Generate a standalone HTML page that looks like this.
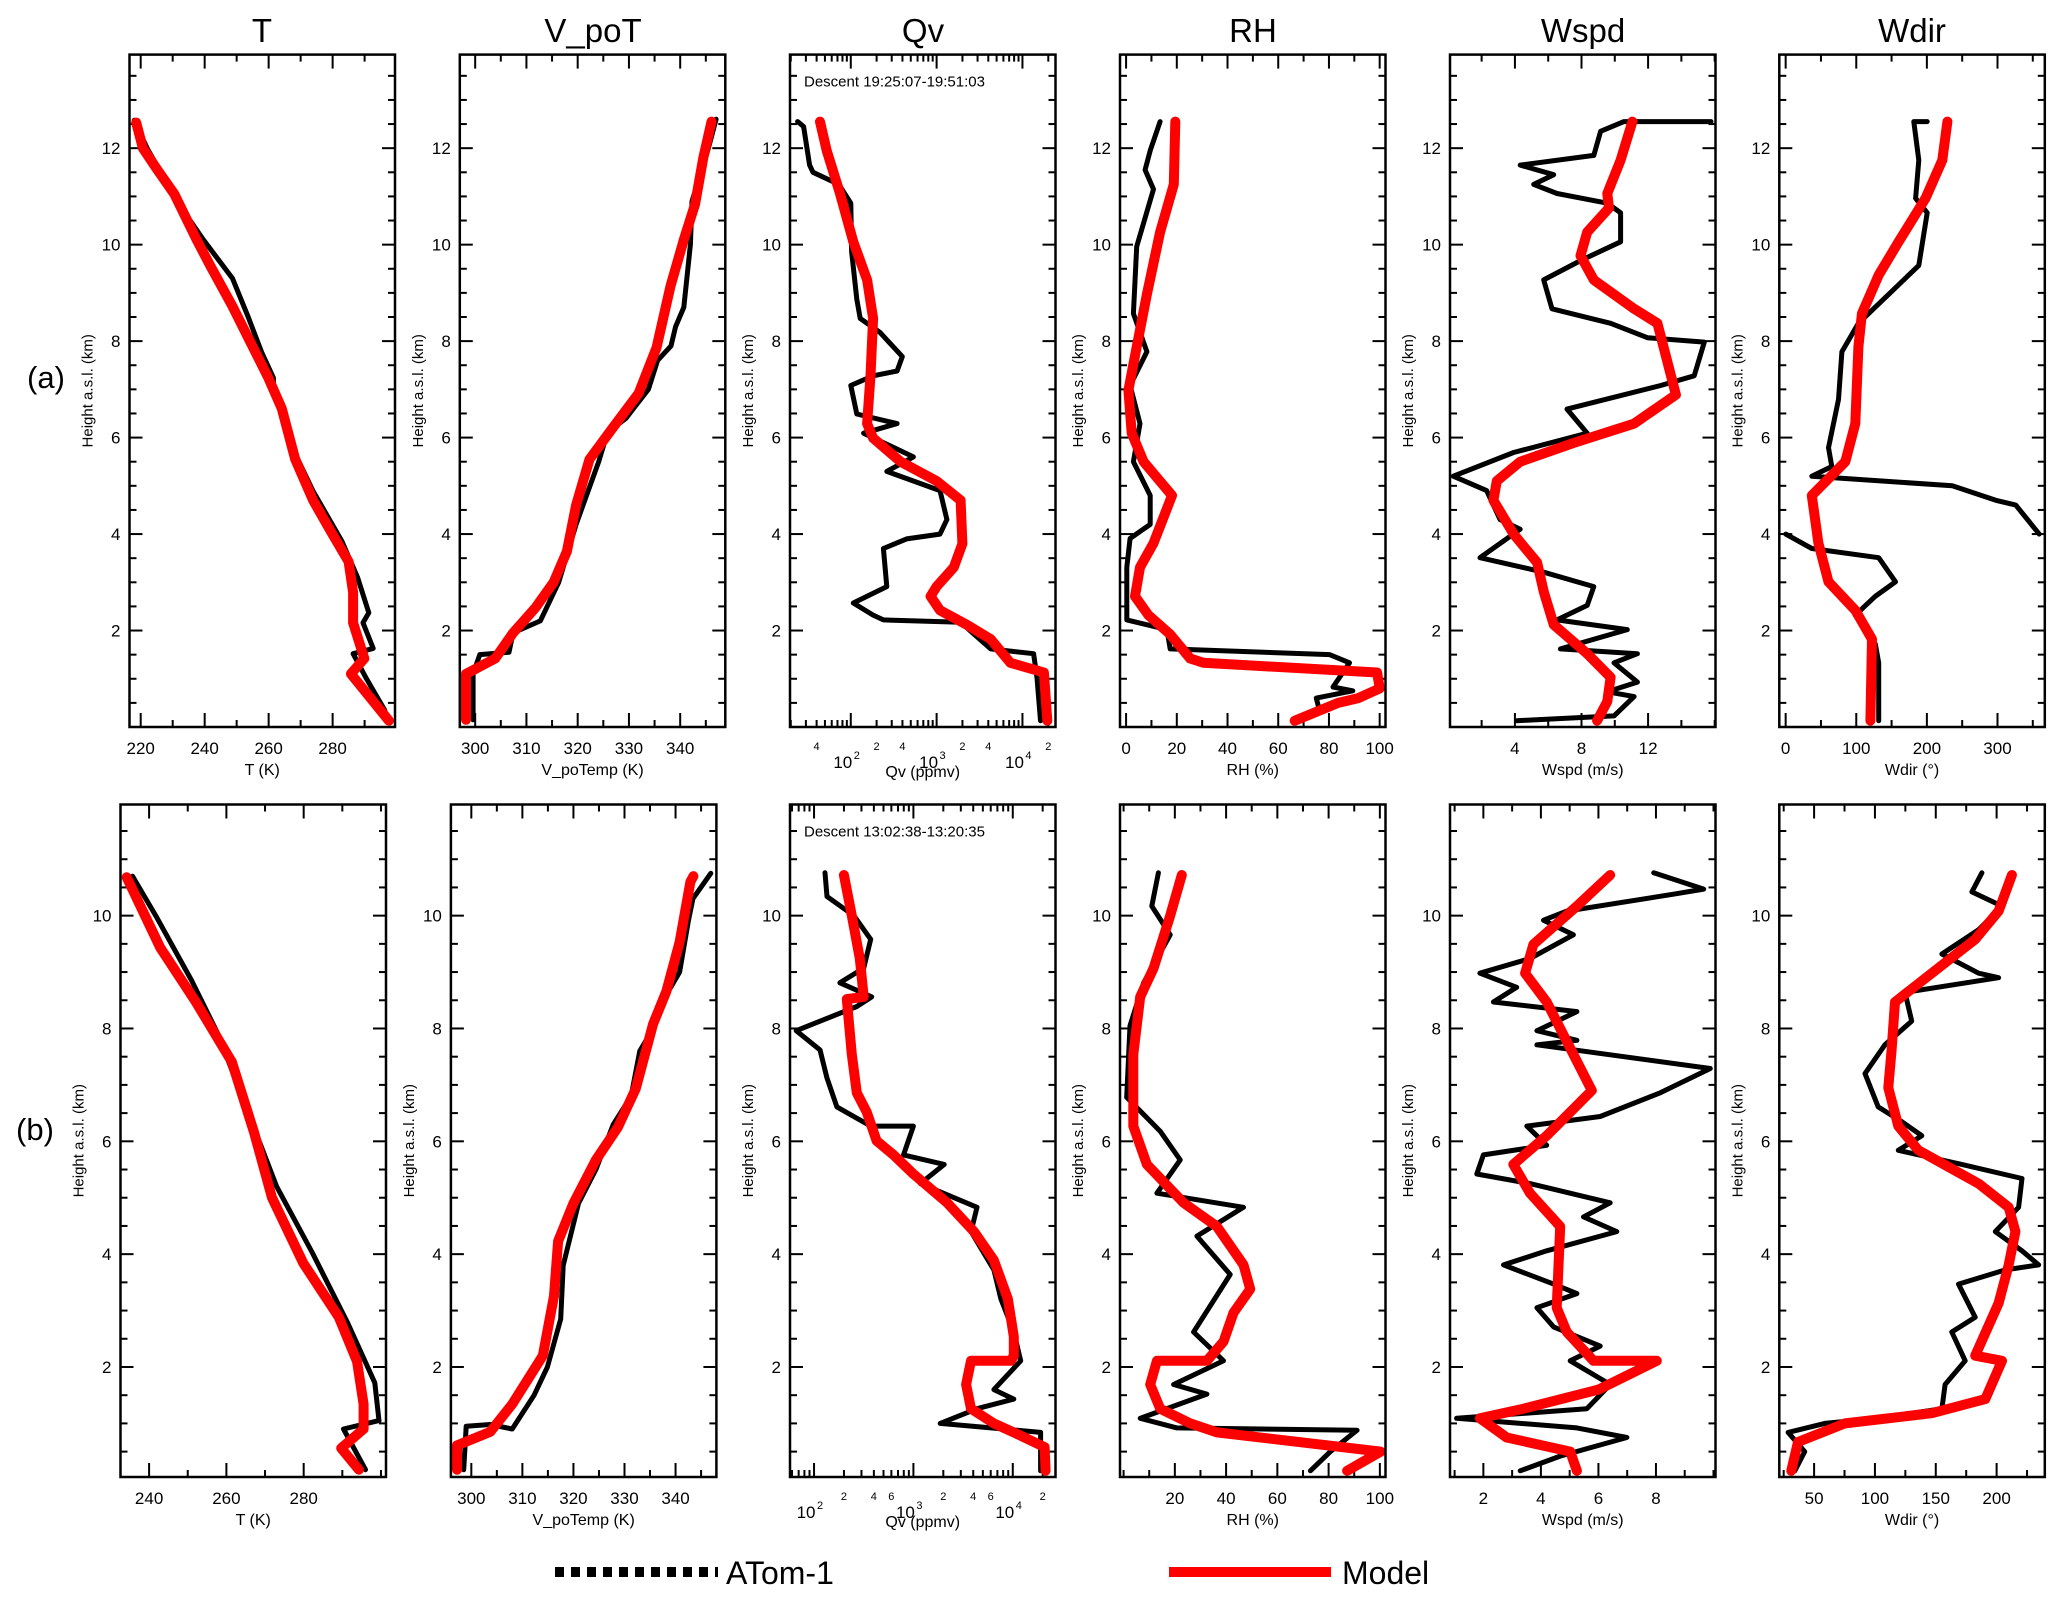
<!DOCTYPE html>
<html><head><meta charset="utf-8"><style>
html,body{margin:0;padding:0;background:#fff;}
svg{display:block;font-family:"Liberation Sans",sans-serif;}
</style></head><body>
<svg id="fig" width="2067" height="1605" viewBox="0 0 2067 1605" xmlns="http://www.w3.org/2000/svg">
<rect width="2067" height="1605" fill="#fff"/>
<g font-size="33" text-anchor="middle">
<text x="262" y="42">T</text>
<text x="593" y="42">V_poT</text>
<text x="923" y="42">Qv</text>
<text x="1253" y="42">RH</text>
<text x="1583" y="42">Wspd</text>
<text x="1912" y="42">Wdir</text>
</g>
<text x="27" y="388" font-size="31">(a)</text>
<text x="16" y="1140" font-size="31">(b)</text>
<g id="panels"></g>
<g>
<line x1="555" y1="1572" x2="718" y2="1572" stroke="#000" stroke-width="10" stroke-dasharray="9,7"/>
<text x="726" y="1584" font-size="32">ATom-1</text>
<line x1="1169" y1="1572" x2="1331" y2="1572" stroke="#f00" stroke-width="10"/>
<text x="1342" y="1584" font-size="32">Model</text>
</g>
</svg>
<script>
// ---- data (height km, value) ----
const Ta_obs_h=[12.58,12,10.84,10.1,9.3,8.5,7.77,7.24,7.03,5.86,4.9,3.85,3.1,2.37,2.16,1.63,1.52,1.0,0.36,0.1];
const Ta_obs_v=[218,222,231.9,239.6,248.7,253.6,257.8,261.5,261.5,266.9,273.8,282.9,287.8,291.3,289.5,292.7,286.4,290.6,296.2,297.6];
const Ta_mod_h=[12.53,12,11.58,11.05,10.1,9.57,8.72,7.98,7.24,6.6,5.55,4.7,4.06,3.43,2.79,2.16,1.42,1.1,0.13];
const Ta_mod_v=[218.6,220.7,224.9,230.5,237.5,241.7,248.7,254.3,259.9,264.1,268.3,273.9,279.4,285,286.4,286.4,289.9,285.7,297.6];
const Va_obs_h=[0.15,1.1,1.5,1.55,1.95,2.2,3.0,4.2,5.5,6.1,6.4,7.0,7.6,7.9,8.3,8.7,10.0,10.9,12.0,12.6];
const Va_obs_v=[299.6,299.6,300.9,306.6,307.4,312.7,316.3,319.7,324.1,325.8,329.4,333.8,335.6,338.2,339.1,340.7,342,342.3,345.5,347];
const Va_mod_h=[0.15,1.1,1.42,1.95,2.48,3.0,3.64,4.6,5.55,6.18,6.92,7.87,9.14,10.1,10.84,11.8,12.55];
const Va_mod_v=[298.2,298.2,303.9,307.4,311.8,315.3,317.9,319.7,322.3,326.7,331.9,335.4,338.1,340.7,342.9,344.5,346.1];
const Qa_obs_h=[12.55,12.45,11.65,11.5,11.25,10.86,9.86,8.87,8.47,8.18,7.68,7.38,7.28,7.08,6.49,6.29,6.09,5.6,5.3,4.9,4.3,4.0,3.9,3.7,2.91,2.57,2.32,2.22,2.17,1.62,1.52,1.02,0.13];
const Qa_obs_v=[1.38,1.45,1.52,1.56,1.86,2.0,2.01,2.07,2.11,2.34,2.6,2.54,2.26,2.0,2.07,2.54,2.15,2.73,2.42,3.04,3.12,3.04,2.65,2.38,2.42,2.03,2.26,2.38,3.28,3.63,4.13,4.17,4.21];
const Qa_mod_h=[12.55,11.95,11.06,10.06,9.27,8.47,7.28,6.29,5.99,5.5,5.1,4.7,3.8,3.31,2.91,2.71,2.42,2.12,1.82,1.33,1.13,0.13];
const Qa_mod_v=[1.642,1.72,1.875,2.03,2.19,2.26,2.23,2.19,2.26,2.58,3.0,3.28,3.3,3.2,3.0,2.93,3.04,3.35,3.63,3.86,4.25,4.29];
const Ra_obs_h=[12.55,11.95,11.55,11.15,9.96,8.57,7.78,7.08,6.29,5.5,4.8,4.2,3.91,3.31,2.22,2.02,1.62,1.5,1.33,0.83,0.75,0.6,0.33,0.13];
const Ra_obs_v=[13.4,9.5,7.5,10.8,4.2,2.9,8.2,1.6,5.5,2.9,9.5,9.5,1.6,0.3,0.3,16.1,17.4,80.2,88.1,81.6,89.4,75,76.3,66.5];
const Ra_mod_h=[12.55,11.25,10.26,8.97,7.88,6.98,6.09,5.5,4.8,3.81,3.31,2.71,2.32,1.92,1.42,1.33,1.13,0.8,0.6,0.5,0.13];
const Ra_mod_v=[19.4,18.8,13.4,8.2,4.2,0.9,2.2,6.9,18.1,10.8,5.5,3.5,8.8,17.4,25.3,30.5,99,100,91.6,83.6,66.5];
const Sa_obs_h=[12.55,12.55,12.35,11.85,11.65,11.45,11.25,11.06,10.86,10.66,10.06,9.67,9.27,8.67,8.37,8.07,7.98,7.28,7.08,6.59,6.09,5.69,5.2,4.9,4.3,4.1,3.51,3.21,2.91,2.52,2.22,2.02,1.62,1.52,1.33,0.93,0.73,0.63,0.23,0.13];
const Sa_obs_v=[15.78,10.55,9.15,8.74,4.32,6.33,5.13,6.53,9.55,10.35,10.35,7.94,5.73,6.23,9.75,11.96,15.38,14.77,12.76,7.13,8.34,3.92,0.3,2.3,3.11,4.32,1.9,5.73,8.74,8.34,6.53,10.75,6.73,11.36,9.95,11.36,9.55,11.16,9.95,4.12];
const Sa_mod_h=[12.55,11.75,11.06,10.76,10.26,9.77,9.27,8.67,8.37,6.89,6.29,5.89,5.5,5.1,4.7,4.0,3.41,2.81,2.12,1.52,1.03,0.53,0.13];
const Sa_mod_v=[11.06,10.35,9.55,9.65,8.34,7.94,8.74,11.16,12.56,13.67,11.16,7.54,4.32,2.91,2.71,3.92,5.33,5.73,6.33,8.34,9.75,9.55,8.94];
const Da_obs_h=[12.55,12.55,11.75,10.96,10.66,9.57,8.97,8.37,7.78,6.79,5.79,5.4,5.2,5.0,4.7,4.6,4.0];
const Da_obs_v=[200.5,181.5,188.6,184,200.5,188.6,146,103,79.6,74.9,60.7,65.4,37,236,297.6,326,359];
const Da_obs2_h=[4.0,3.7,3.51,3.01,2.71,2.32,1.72,1.33,0.13];
const Da_obs2_v=[0,37,131.8,155.5,127,98.6,127,131.8,131.8];
const Da_mod_h=[12.55,11.75,10.96,10.06,9.37,8.57,7.88,6.29,5.5,4.8,3.81,3.01,2.42,1.82,0.13];
const Da_mod_v=[229,221.8,198,160,131.8,108,103,98.6,84.4,37,46.4,60.7,98.6,122.3,120];

const Tb_obs_h=[10.7,10,8.85,7.89,6.64,5.2,4.03,2.78,1.72,1.05,0.9,0.18];
const Tb_obs_v=[235.7,241.7,251,257.9,264.9,273,282.2,291.4,298.4,299.5,290.3,296];
const Tb_mod_h=[10.68,9.43,8.47,7.41,6.15,5.0,3.84,2.88,2.1,1.34,0.9,0.56,0.18];
const Tb_mod_v=[234.2,242.9,252.1,261.4,267.2,271.8,279.9,289.1,293.8,295.5,295.5,289.7,294.3];
const Vb_obs_h=[0.18,0.95,0.98,0.9,1.5,2.0,2.85,3.8,4.9,5.5,6.3,6.8,7.6,8.0,8.6,9.0,9.9,10.3,10.75];
const Vb_obs_v=[298.5,299,303.7,308,312.3,314.9,317.5,318,321,324.4,327.8,331.3,333,335.6,338.2,340.8,342.5,343.4,346.9];
const Vb_mod_h=[0.18,0.61,0.85,1.34,2.2,3.26,4.23,4.9,5.67,6.25,6.93,8.08,8.66,9.53,10.6,10.7];
const Vb_mod_v=[297.2,297.2,303.7,308,314,316.2,317,320,324.4,328.7,332.2,335.6,338.2,340.8,342.9,343.5];
const Qb_obs_h=[10.76,10.34,10,9.58,9.07,8.81,8.56,8.39,7.96,7.62,7.12,6.61,6.27,6.27,5.76,5.59,5.25,4.83,4.4,3.72,3.21,2.62,2.11,1.6,1.43,1.26,1.0,0.92,0.84,0.16];
const Qb_obs_v=[2.11,2.13,2.4,2.57,2.5,2.26,2.58,2.43,1.82,2.06,2.13,2.23,2.57,3.0,2.9,3.31,3.07,3.64,3.58,3.81,3.88,4.01,4.08,3.81,4.01,3.64,3.27,3.78,4.28,4.28];
const Qb_mod_h=[10.72,10,9.24,8.56,8.52,7.54,6.86,6.52,6.01,5.76,5.42,4.91,4.4,3.89,3.21,2.54,2.2,2.11,2.11,1.69,1.26,1.0,0.84,0.58,0.16];
const Qb_mod_v=[2.3,2.38,2.46,2.5,2.33,2.38,2.43,2.53,2.63,2.8,3.0,3.34,3.61,3.81,3.95,4.01,4.01,3.98,3.58,3.53,3.58,3.81,4.01,4.32,4.33];
const Rb_obs_h=[10.76,10.17,9.66,8.81,8.05,6.78,6.18,5.67,5.08,4.83,4.32,3.64,2.62,2.11,1.69,1.52,1.09,0.92,0.88,0.5,0.16];
const Rb_obs_v=[13.6,11,18.2,7.8,2.5,1.2,14.3,22.1,13,46.8,28.6,41.6,27.3,39,19.5,32.5,6.5,20.8,91.1,80.7,72.9];
const Rb_mod_h=[10.72,10,9.07,8.56,7.54,6.27,5.59,4.91,4.49,3.81,3.38,2.96,2.45,2.11,2.11,1.69,1.26,1.0,0.84,0.5,0.16];
const Rb_mod_v=[22.7,18.2,11.7,6.5,3.8,3.8,9.1,23.4,36.4,46.8,49.4,42.9,39,32.5,13,10.4,14.3,26,36.4,100.3,87.2];
const Sb_obs_h=[10.76,10.47,10.38,10.08,9.92,9.66,9.24,8.98,8.73,8.47,8.3,7.96,7.79,7.71,7.29,6.86,6.44,6.27,5.93,5.76,5.42,5.25,4.91,4.66,4.4,4.06,3.81,3.47,3.3,3.05,2.71,2.37,2.11,1.69,1.26,1.09,0.92,0.75,0.42,0.16];
const Sb_obs_v=[7.92,9.66,8.61,4.9,4.09,5.13,3.62,1.88,3.16,2.35,5.25,3.86,5.25,3.86,9.89,8.15,6.06,3.51,4.2,2.0,1.77,3.62,6.41,5.48,6.64,4.2,2.7,4.44,5.25,3.86,4.44,6.06,5.02,6.41,5.6,1.07,5.25,6.99,4.67,3.28];
const Sb_mod_h=[10.72,10.17,9.49,8.98,8.47,6.9,6.1,5.59,5.08,4.49,3.05,2.62,2.11,2.11,1.6,1.26,1.09,0.75,0.5,0.16];
const Sb_mod_v=[6.41,5.25,3.74,3.45,4.2,5.77,4.2,3.04,3.62,4.67,4.55,4.9,5.83,8.03,6.0,3.39,1.88,2.81,5.02,5.25];
const Db_obs_h=[10.76,10.42,10.17,9.75,9.32,8.98,8.9,8.64,8.13,7.71,7.2,6.61,6.35,6.1,5.84,5.59,5.34,4.83,4.4,4.06,3.81,3.72,3.47,2.88,2.62,2.11,1.69,1.26,1.09,1.0,0.84,0.5,0.16];
const Db_obs_v=[187.9,179.7,204.4,185.2,155,185.2,201.6,124.7,130.2,108.2,91.8,102.7,122,138.5,119.2,171.4,220.9,218.1,198.9,220.9,234.6,207.1,168.7,182.4,163.2,174.2,157.7,155,102.7,58.8,28.6,42.3,34.1];
const Db_mod_h=[10.72,10.08,9.58,8.98,8.47,7.62,6.95,6.27,5.84,5.25,4.83,4.4,3.81,3.13,2.2,2.11,1.43,1.18,1.0,0.67,0.16];
const Db_mod_v=[212.6,201.6,182.4,146.7,116.5,113.7,111,119.2,135.7,185.2,209.9,215.4,209.9,201.6,182.4,204.4,190.7,146.7,75.3,36.8,31.3];

// ---- tick labels ----
const T_ticks_a=[220,240,260,280];
const T_ticks_b=[240,260,280];
const V_ticks=[300,310,320,330,340];
const RH_ticks_a=[0,20,40,60,80,100];
const RH_ticks_b=[20,40,60,80,100];
const WS_ticks_a=[4,8,12];
const WS_ticks_b=[2,4,6,8];
const WD_ticks_a=[0,100,200,300];
const WD_ticks_b=[50,100,150,200];
const Q_major=[2,3,4];
const Q_minor_a=[40,200,400,2000,4000,20000];
const Q_minor_b=[200,400,600,2000,4000,6000,20000];
const Ya_ticks=[2,4,6,8,10,12];
const Yb_ticks=[2,4,6,8,10];

const NS="http://www.w3.org/2000/svg";
const root=document.getElementById('panels');
function mk(tag,attrs,parent){const e=document.createElementNS(NS,tag);for(const k in attrs)e.setAttribute(k,attrs[k]);parent.appendChild(e);return e;}

const W=265.5;
const rows={a:{top:54.6,bot:727,ymin:0,ymax:13.94,yt:Ya_ticks},b:{top:804.5,bot:1477,ymin:0.05,ymax:11.97,yt:Yb_ticks}};

function panel(name,row,left,xmin,xmax,log,ticks,minorStep,xtitle,series,extra){
  const R=rows[row];
  const g=mk('g',{},root);
  
  
  const sx=v=>left+( (log?Math.log10(v):v)-xmin)/(xmax-xmin)*W;
  const sxl=v=>left+(v-xmin)/(xmax-xmin)*W;
  const sy=h=>R.bot-(h-R.ymin)/(R.ymax-R.ymin)*(R.bot-R.top);
  const cp=mk('clipPath',{id:'cp-'+name},g);
  mk('rect',{x:left,y:R.top,width:W,height:R.bot-R.top},cp);
  for(let h=0.5;h<R.ymax;h+=0.5){
    if(h<R.ymin)continue;
    const major=Math.abs(h/2-Math.round(h/2))<1e-6;
    const L=major?13:7;
    const y=sy(h);
    const t1=mk('line',{x1:left,y1:y,x2:left+L,y2:y,stroke:'#000','stroke-width':2},g);
    
    
    const t2=mk('line',{x1:left+W,y1:y,x2:left+W-L,y2:y,stroke:'#000','stroke-width':2},g);
    
    
  }
  R.yt.forEach(v=>{
    const t=mk('text',{x:left-9,y:sy(v)+6,'font-size':17,'text-anchor':'end'},g);
    t.textContent=v;
    
    
  });
  const yt=mk('text',{x:0,y:0,'font-size':15,'text-anchor':'middle',transform:`translate(${left-37},${(R.top+R.bot)/2}) rotate(-90)`},g);
  yt.textContent='Height a.s.l. (km)';
  
  
  const xtick=(x,L)=>{
    const a=mk('line',{x1:x,y1:R.bot,x2:x,y2:R.bot-L,stroke:'#000','stroke-width':2},g);
    
    
    const b=mk('line',{x1:x,y1:R.top,x2:x,y2:R.top+L,stroke:'#000','stroke-width':2},g);
    
    
  };
  const ly=R.bot+27;
  if(log){
    for(let d=1;d<=4;d++)for(let m=1;m<10;m++){
      const lv=d+Math.log10(m);
      if(lv<xmin||lv>xmax)continue;
      xtick(sxl(lv),m===1?14:7);
    }
    Q_major.forEach(d=>{
      const t=mk('text',{x:sxl(d)-8,y:ly+14,'font-size':17,'text-anchor':'middle'},g);
      t.textContent='10';
      
      
      const s=mk('text',{x:sxl(d)+6,y:ly+5,'font-size':11,'text-anchor':'middle'},g);
      s.textContent=String(d);
      
      
    });
    extra.forEach(v=>{
      const t=mk('text',{x:sx(v),y:ly-4,'font-size':11,'text-anchor':'middle'},g);
      t.textContent=String(v).replace(/0+$/,'');
      
      
    });
  } else {
    const st=Math.ceil(xmin/minorStep)*minorStep;
    for(let v=st;v<=xmax;v+=minorStep){
      const major=ticks.some(t=>Math.abs(t-v)<1e-6);
      xtick(sx(v),major?14:7);
    }
    ticks.forEach(v=>{
      const t=mk('text',{x:sx(v),y:ly,'font-size':17,'text-anchor':'middle'},g);
      t.textContent=v;
      
      
    });
  }
  const xt=mk('text',{x:left+W/2,y:R.bot+(log?50:48),'font-size':16,'text-anchor':'middle'},g);
  xt.textContent=xtitle;
  
  
  if(row&&name.indexOf('qv')===0){
    const d=mk('text',{x:left+14,y:R.top+32,'font-size':15},g);
    d.textContent=row==='a'?'Descent 19:25:07-19:51:03':'Descent 13:02:38-13:20:35';
    
    
  }
  const sg=mk('g',{'clip-path':`url(#cp-${name})`},g);
  series.forEach(s=>{
    const pts=s.h.map((h,i)=>sx(s.v[i]).toFixed(1)+','+sy(h).toFixed(1)).join(' ');
    const p=mk('polyline',{points:pts,fill:'none',stroke:s.model?'#f00':'#000','stroke-width':s.model?10:5,'stroke-linejoin':'round','stroke-linecap':'round'},sg);
    
    
  });
  const fr=mk('rect',{x:left,y:R.top,width:W,height:R.bot-R.top,fill:'none',stroke:'#000','stroke-width':2.5},g);
  
  
}
const S=(h,v,m)=>({h:h,v:v,model:m});
const lg=a=>a.map(x=>Math.pow(10,x));

panel('t-a','a',129.5,216.5,299.5,false,T_ticks_a,10,'T (K)',[S(Ta_obs_h,Ta_obs_v,0),S(Ta_mod_h,Ta_mod_v,1)]);
panel('vpot-a','a',459.8,297,348.8,false,V_ticks,5,'V_poTemp (K)',[S(Va_obs_h,Va_obs_v,0),S(Va_mod_h,Va_mod_v,1)]);
panel('qv-a','a',790,1.292,4.385,true,[],0,'Qv (ppmv)',[S(Qa_obs_h,lg(Qa_obs_v),0),S(Qa_mod_h,lg(Qa_mod_v),1)],Q_minor_a);
panel('rh-a','a',1120,-2.4,102.3,false,RH_ticks_a,10,'RH (%)',[S(Ra_obs_h,Ra_obs_v,0),S(Ra_mod_h,Ra_mod_v,1)]);
panel('wspd-a','a',1450,0.1,16.05,false,WS_ticks_a,2,'Wspd (m/s)',[S(Sa_obs_h,Sa_obs_v,0),S(Sa_mod_h,Sa_mod_v,1)]);
panel('wdir-a','a',1779.3,-9,367,false,WD_ticks_a,50,'Wdir (°)',[S(Da_obs_h,Da_obs_v,0),S(Da_obs2_h,Da_obs2_v,0),S(Da_mod_h,Da_mod_v,1)]);

panel('t-b','b',120.5,232.6,301.3,false,T_ticks_b,10,'T (K)',[S(Tb_obs_h,Tb_obs_v,0),S(Tb_mod_h,Tb_mod_v,1)]);
panel('vpot-b','b',450.9,296,348,false,V_ticks,5,'V_poTemp (K)',[S(Vb_obs_h,Vb_obs_v,0),S(Vb_mod_h,Vb_mod_v,1)]);
panel('qv-b','b',790,1.758,4.43,true,[],0,'Qv (ppmv)',[S(Qb_obs_h,lg(Qb_obs_v),0),S(Qb_mod_h,lg(Qb_mod_v),1)],Q_minor_b);
panel('rh-b','b',1120,-1.4,102.2,false,RH_ticks_b,10,'RH (%)',[S(Rb_obs_h,Rb_obs_v,0),S(Rb_mod_h,Rb_mod_v,1)]);
panel('wspd-b','b',1450,0.84,10.07,false,WS_ticks_b,1,'Wspd (m/s)',[S(Sb_obs_h,Sb_obs_v,0),S(Sb_mod_h,Sb_mod_v,1)]);
panel('wdir-b','b',1779.3,21.4,239.6,false,WD_ticks_b,25,'Wdir (°)',[S(Db_obs_h,Db_obs_v,0),S(Db_mod_h,Db_mod_v,1)]);
</script>
</body></html>
